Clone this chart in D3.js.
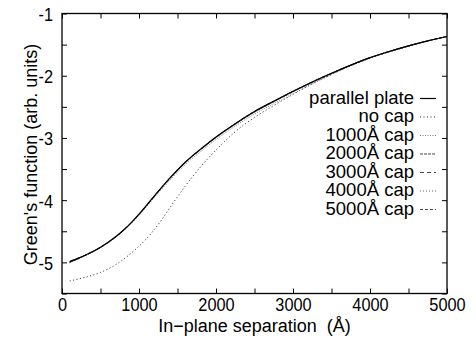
<!DOCTYPE html>
<html>
<head>
<meta charset="utf-8">
<script src="https://cdn.jsdelivr.net/npm/d3@7"></script>
<style>
  html, body { margin: 0; padding: 0; background: #fff; }
  svg { display: block; }
  text { font-family: "Liberation Sans", Arial, Helvetica, sans-serif; fill: #000; }
</style>
</head>
<body>
<svg id="chart" width="476" height="343"></svg>
<script>
// ---- data ----
const xs = [100,200,300,400,500,600,700,800,900,1000,1100,1200,1300,1400,1500,1600,1700,1800,1900,2000,2250,2500,2750,3000,3250,3500,3750,4000,4250,4500,4750,5000];
const parallelPlate = [-4.99,-4.94,-4.885,-4.825,-4.755,-4.675,-4.585,-4.48,-4.36,-4.225,-4.08,-3.93,-3.785,-3.645,-3.515,-3.39,-3.28,-3.18,-3.08,-2.985,-2.77,-2.575,-2.41,-2.25,-2.10,-1.96,-1.83,-1.71,-1.61,-1.52,-1.44,-1.37];
const noCap = [-5.30,-5.27,-5.24,-5.205,-5.16,-5.105,-5.035,-4.95,-4.85,-4.74,-4.615,-4.47,-4.305,-4.125,-3.945,-3.775,-3.615,-3.465,-3.325,-3.195,-2.90,-2.67,-2.48,-2.30,-2.13,-1.98,-1.84,-1.72,-1.62,-1.53,-1.44,-1.37];
const cap1000 = [-5.01,-4.95,-4.895,-4.835,-4.765,-4.685,-4.595,-4.49,-4.375,-4.245,-4.10,-3.955,-3.815,-3.68,-3.55,-3.43,-3.32,-3.22,-3.12,-3.025,-2.81,-2.615,-2.45,-2.29,-2.13,-1.98,-1.84,-1.72,-1.61,-1.52,-1.44,-1.37];
const cap2000 = [-5.00,-4.95,-4.89,-4.83,-4.76,-4.68,-4.59,-4.485,-4.365,-4.235,-4.09,-3.94,-3.795,-3.655,-3.525,-3.40,-3.29,-3.19,-3.09,-2.995,-2.78,-2.585,-2.42,-2.26,-2.11,-1.97,-1.83,-1.71,-1.61,-1.52,-1.44,-1.37];
const cap3000 = [-4.98,-4.935,-4.885,-4.825,-4.755,-4.675,-4.585,-4.48,-4.36,-4.225,-4.08,-3.93,-3.785,-3.65,-3.52,-3.395,-3.285,-3.185,-3.085,-2.99,-2.775,-2.58,-2.415,-2.255,-2.10,-1.96,-1.83,-1.71,-1.61,-1.52,-1.44,-1.37];
const cap4000 = [-5.00,-4.945,-4.89,-4.825,-4.755,-4.675,-4.585,-4.48,-4.36,-4.225,-4.08,-3.93,-3.785,-3.645,-3.515,-3.39,-3.28,-3.18,-3.08,-2.985,-2.77,-2.575,-2.41,-2.25,-2.10,-1.96,-1.83,-1.71,-1.61,-1.52,-1.44,-1.37];
const cap5000 = [-4.99,-4.94,-4.885,-4.825,-4.755,-4.675,-4.585,-4.48,-4.36,-4.225,-4.08,-3.93,-3.785,-3.645,-3.515,-3.39,-3.28,-3.18,-3.08,-2.985,-2.77,-2.575,-2.41,-2.25,-2.10,-1.96,-1.83,-1.71,-1.61,-1.52,-1.44,-1.37];

const seriesNames = ["parallel plate", "no cap", "1000\u00C5 cap", "2000\u00C5 cap", "3000\u00C5 cap", "4000\u00C5 cap", "5000\u00C5 cap"];
const seriesValues = [parallelPlate, noCap, cap1000, cap2000, cap3000, cap4000, cap5000];

const xTickValues = [0,500,1000,1500,2000,2500,3000,3500,4000,4500,5000];
const xTickLabels = ["0","","1000","","2000","","3000","","4000","","5000"];
const yTickValues = [-5.5,-5,-4.5,-4,-3.5,-3,-2.5,-2,-1.5,-1];
const yTickLabels = ["","-5","","-4","","-3","","-2","","-1"];

const xTitle = "In\u2212plane separation\u00A0\u00A0(\u00C5)";
const yTitle = "Green's function (arb. units)";

// ---- styles ----
const styles = [
  {color: "#000", width: 1.2, dash: null},
  {color: "#222", width: 1.0, dash: "1,2.5"},
  {color: "#777", width: 1.0, dash: "1,1.5"},
  {color: "#333", width: 0.9, dash: "3,1"},
  {color: "#333", width: 0.9, dash: "4,3"},
  {color: "#555", width: 0.9, dash: "1,2"},
  {color: "#333", width: 0.9, dash: "3,2"}
];

// ---- layout ----
const mLeft = 62, mRight = 447, mTop = 13.5, mBottom = 293.5;
const svg = d3.select("#chart");

const x = d3.scaleLinear().domain([0, 5000]).range([mLeft, mRight]);
const y = d3.scaleLinear().domain([-5.5, -1]).range([mBottom, mTop]);

const tickFont = 19, squash = 0.86;

// bottom axis
const gx = svg.append("g").attr("transform", `translate(0,${mBottom})`)
  .call(d3.axisBottom(x).tickValues(xTickValues).tickSizeInner(-5).tickSizeOuter(0)
    .tickFormat((d, i) => xTickLabels[i]));
// top axis
const gxt = svg.append("g").attr("transform", `translate(0,${mTop})`)
  .call(d3.axisTop(x).tickValues(xTickValues).tickSizeInner(-5).tickSizeOuter(0).tickFormat(""));
// left axis
const gy = svg.append("g").attr("transform", `translate(${mLeft},0)`)
  .call(d3.axisLeft(y).tickValues(yTickValues).tickSizeInner(-5).tickSizeOuter(0)
    .tickFormat((d, i) => yTickLabels[i]));
// right axis
const gyr = svg.append("g").attr("transform", `translate(${mRight},0)`)
  .call(d3.axisRight(y).tickValues(yTickValues).tickSizeInner(-5).tickSizeOuter(0).tickFormat(""));

[gx, gxt, gy, gyr].forEach(g => {
  g.select(".domain").remove();
  g.selectAll(".tick line").attr("stroke", "#000").attr("stroke-width", 1);
});

gx.selectAll(".tick text")
  .attr("y", 18).attr("dy", 0)
  .attr("transform", `scale(${squash},1)`)
  .style("font-size", tickFont + "px").style("font-family", "'Liberation Sans', Arial, sans-serif").attr("fill", "#000");
gy.selectAll(".tick text")
  .attr("x", -9 / squash).attr("dy", "0.36em")
  .attr("transform", `scale(${squash},1)`)
  .style("font-size", tickFont + "px").style("font-family", "'Liberation Sans', Arial, sans-serif").attr("fill", "#000");

// frame
svg.append("rect")
  .attr("x", mLeft).attr("y", mTop)
  .attr("width", mRight - mLeft).attr("height", mBottom - mTop)
  .attr("fill", "none").attr("stroke", "#000").attr("stroke-width", 1.3);

// curves
const line = d3.line()
  .x((d, i) => x(xs[i]))
  .y(d => y(d))
  .curve(d3.curveMonotoneX);

const drawOrder = [1, 2, 3, 4, 5, 6, 0];
drawOrder.forEach(k => {
  const s = styles[k];
  svg.append("path")
    .datum(seriesValues[k])
    .attr("d", line)
    .attr("fill", "none")
    .attr("stroke", s.color)
    .attr("stroke-width", s.width)
    .attr("stroke-dasharray", s.dash);
});

// legend
const legendTextRight = 414, legendLineX0 = 420, legendLineX1 = 436;
const legendBase0 = 103.5, legendStep = 18.5;
seriesNames.forEach((name, i) => {
  const by = legendBase0 + i * legendStep;
  svg.append("text")
    .attr("x", legendTextRight).attr("y", by)
    .attr("text-anchor", "end")
    .style("font-size", "18.5px")
    .text(name);
  const s = styles[i];
  svg.append("line")
    .attr("x1", legendLineX0).attr("x2", legendLineX1)
    .attr("y1", by - 5).attr("y2", by - 5)
    .attr("stroke", s.color)
    .attr("stroke-width", s.width)
    .attr("stroke-dasharray", s.dash);
});

// axis titles
svg.append("text")
  .attr("x", (mLeft + mRight) / 2).attr("y", 332)
  .attr("text-anchor", "middle")
  .style("font-size", "18px")
  .style("white-space", "pre")
  .text(xTitle);

svg.append("text")
  .attr("transform", `translate(37,${(mTop + mBottom) / 2 + 1}) rotate(-90)`)
  .attr("text-anchor", "middle")
  .style("font-size", "18px")
  .text(yTitle);
</script>
</body>
</html>
